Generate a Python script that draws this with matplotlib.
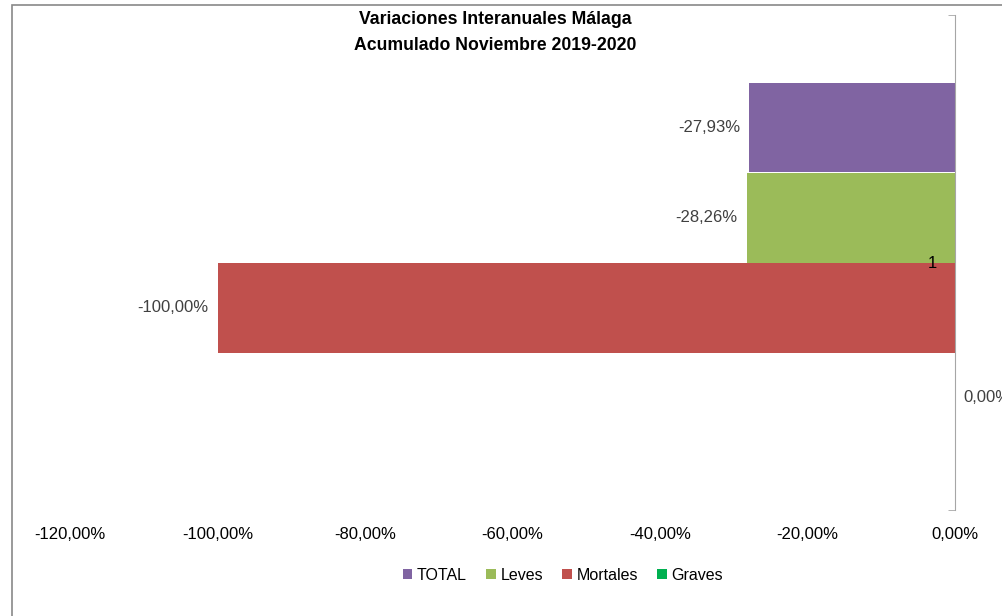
import matplotlib.pyplot as plt
from matplotlib.patches import Rectangle

plt.rcParams['font.family'] = ['Liberation Sans', 'DejaVu Sans']

series = ['TOTAL', 'Leves', 'Mortales', 'Graves']
values = [-27.93, -28.26, -100.00, 0.00]
colors = ['#8064A2', '#9BBB59', '#C0504D', '#00B050']
xticks = [-120, -100, -80, -60, -40, -20, 0]
category = '1'

fig = plt.figure(figsize=(10.03, 6.16), dpi=100)
ax = fig.add_axes([70 / 1003, 1 - 510 / 616, 885 / 1003, 495 / 616])

# excel-like layout: one category, 4 bars, gap width 150%
gap = 1.5
h = 1 / (len(series) + gap)
for i, (name, v, c) in enumerate(zip(series, values, colors)):
    y = gap / 2 * h + (i + 0.5) * h
    ax.barh(y, v, height=h, color=c, label=name)
    lab = f'{v:.2f}'.replace('.', ',') + '%'
    if v < 0:
        ax.annotate(lab, (v, y), xytext=(-6.5, 0), textcoords='offset points',
                    ha='right', va='center', fontsize=12, color='#404040')
    else:
        ax.annotate(lab, (v, y), xytext=(6, 0), textcoords='offset points',
                    ha='left', va='center', fontsize=12, color='#404040',
                    annotation_clip=False)

ax.set_xlim(-120, 0)
ax.set_ylim(1, 0)
ax.set_xticks(xticks)
ax.set_xticklabels([f'{t:.2f}'.replace('.', ',') + '%' for t in xticks])
ax.tick_params(axis='x', length=0, pad=12, labelsize=12, labelcolor='#000000')

for s in ['top', 'bottom', 'right']:
    ax.spines[s].set_visible(False)
ax.spines['left'].set_position(('data', 0))
ax.spines['left'].set_color('#A6A6A6')
ax.set_yticks([0.5])
ax.set_yticklabels([category])
ax.set_yticks([0, 1], minor=True)
ax.tick_params(axis='y', which='major', length=0, pad=13, labelsize=12)
ax.tick_params(axis='y', which='minor', length=5, color='#A6A6A6', direction='out')
ax.set_zorder(2)

fig.text(495 / 1003, 1 - 20 / 616, 'Variaciones Interanuales Málaga',
         ha='center', va='center', fontsize=12.7, fontweight='bold')
fig.text(495 / 1003, 1 - 45 / 616, 'Acumulado Noviembre 2019-2020',
         ha='center', va='center', fontsize=12.7, fontweight='bold')

ax.legend(loc='center', bbox_to_anchor=(563 / 1003, 1 - 575 / 616),
          bbox_transform=fig.transFigure, ncol=4, frameon=False,
          fontsize=11.5, handlelength=0.6, handleheight=0.6,
          handletextpad=0.3, columnspacing=1.2)

# chart area border (right and bottom fall outside the image)
fig.patches.append(Rectangle((12 / 1003, -0.1), 1.2, 1.1 - 5 / 616,
                             transform=fig.transFigure, fill=False,
                             edgecolor='#898989', linewidth=1.2))

fig.savefig('out.png', dpi=100)
